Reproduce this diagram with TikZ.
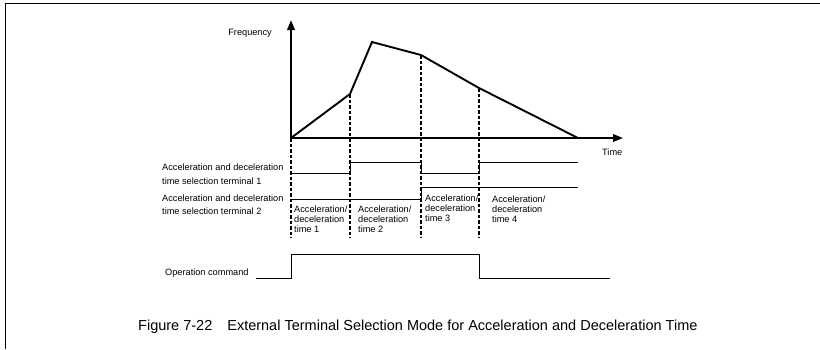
\documentclass[tikz,border=0pt]{standalone}
\usepackage{fontspec}
\setmainfont{Liberation Sans}
\usetikzlibrary{arrows.meta}
\begin{document}
\begin{tikzpicture}[x=1pt,y=-1pt,
  lbl/.style={inner sep=0pt, font=\fontsize{9.2}{11}\selectfont},
  termlbl/.style={inner sep=0pt, align=left, anchor=north west, font=\fontsize{9.2}{13.5}\selectfont},
  phaselbl/.style={inner sep=0pt, align=left, anchor=north west, font=\fontsize{9.2}{10}\selectfont},
  axis/.style={line width=2pt, -{Triangle[length=10pt,width=7.5pt]}},
  curve/.style={line width=1.9pt, line join=miter},
  sig/.style={line width=1pt},
  guide/.style={line width=1.2pt, dash pattern=on 3.5pt off 2pt},
  frame/.style={line width=0.9pt}
]
\useasboundingbox (0,0) rectangle (820,349);
% frame
\draw[frame] (5,349) -- (5,3) -- (820,3);
% key coordinates
\coordinate (O) at (291,138);
\coordinate (ytip) at (291,20);
\coordinate (xtip) at (623,138);
\coordinate (p1) at (350,94);
\coordinate (p2) at (372,42);
\coordinate (p3) at (421,55);
\coordinate (p4) at (479,88);
\coordinate (p5) at (578,138);
\coordinate (b0) at (291,238);
\coordinate (b1) at (350,238);
\coordinate (b2) at (421,238);
\coordinate (b3) at (479,238);
% guides
\draw[guide] (O) -- (b0);
\draw[guide] (p1) -- (b1);
\draw[guide] (p3) -- (b2);
\draw[guide] (p4) -- (b3);
% axes
\draw[axis] (O) -- (ytip);
\draw[axis] (O) -- (xtip);
% frequency curve
\draw[curve] (O) -- (p1) -- (p2) -- (p3) -- (p4) -- (p5);
% axis labels
\node[lbl, anchor=base east] (freq) at (272,35.3) {Frequency};
\node[lbl, anchor=base west] (time) at (602,155.3) {Time};
% terminal 1 signal
\draw[sig] (291,173) -- (350,173) -- (350,162) -- (421,162) -- (421,173) -- (479,173) -- (479,162) -- (578,162);
% terminal 2 signal
\draw[sig] (291,199) -- (421,199) -- (421,187) -- (578,187);
% operation command signal
\draw[sig] (256,278) -- (291,278) -- (291,254) -- (479,254) -- (479,278) -- (610,278);
% labels
\node[termlbl, font=\fontsize{9.2}{14}\selectfont] (t1) at (162,163.7) {Acceleration and deceleration\\time selection terminal 1};
\node[termlbl, font=\fontsize{9.2}{13}\selectfont] (t2) at (162,194.7) {Acceleration and deceleration\\time selection terminal 2};
\node[phaselbl] (ph1) at (294,205.7) {Acceleration/\\deceleration\\time 1};
\node[phaselbl] (ph2) at (358,205.7) {Acceleration/\\deceleration\\time 2};
\node[phaselbl] (ph3) at (425,194.7) {Acceleration/\\deceleration\\time 3};
\node[phaselbl] (ph4) at (492,195.7) {Acceleration/\\deceleration\\time 4};
\node[lbl, anchor=base west] (op) at (165,275.3) {Operation command};
\node[inner sep=0pt, anchor=base west, font=\fontsize{14.5}{16}\selectfont] (cap) at (138,330) {Figure 7-22\hspace*{15pt}External Terminal Selection Mode for Acceleration and Deceleration Time};
\end{tikzpicture}
\end{document}
